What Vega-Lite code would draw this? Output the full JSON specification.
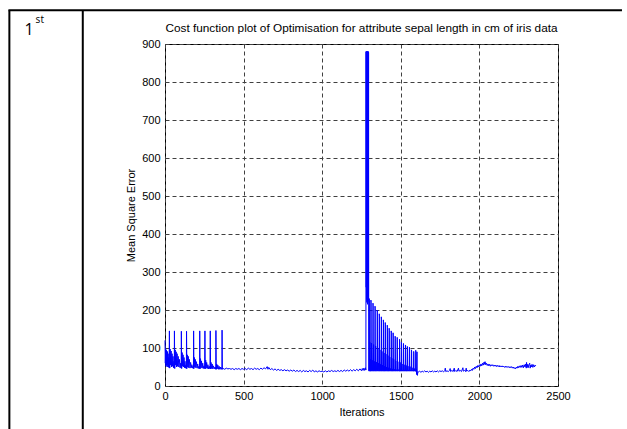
{
  "$schema": "https://vega.github.io/schema/vega-lite/v6.json",
  "width": 393,
  "height": 342,
  "autosize": "none",
  "padding": {"left": 165, "top": 44, "right": 69, "bottom": 43},
  "background": "white",
  "config": {"view": {"stroke": "black", "strokeWidth": 1}, "font": "Liberation Sans"},
  "title": {"text": "Cost function plot of Optimisation for attribute sepal length in cm of iris data", "fontSize": 11.8, "font": "Liberation Sans", "fontWeight": "normal", "color": "black", "offset": -26, "anchor": "middle"},
  "layer": [
    {
      "data": {"values": [
        {"i":0,"mse":120},{"i":2,"mse":60},{"i":4,"mse":98},{"i":6,"mse":52},{"i":8,"mse":95},{"i":10,"mse":55},{"i":12,"mse":92},{"i":14,"mse":50},{"i":16,"mse":90},{"i":18,"mse":55},{"i":20,"mse":85},{"i":22,"mse":50},{"i":24,"mse":75},{"i":26,"mse":48},{"i":28,"mse":145},{"i":30,"mse":47},{"i":33,"mse":97},{"i":36,"mse":55},{"i":39,"mse":92},{"i":42,"mse":50},{"i":45,"mse":85},{"i":48,"mse":52},{"i":51,"mse":78},{"i":54,"mse":48},{"i":57,"mse":65},{"i":59,"mse":47},{"i":60,"mse":145},{"i":62,"mse":46},{"i":65,"mse":95},{"i":68,"mse":55},{"i":71,"mse":90},{"i":74,"mse":50},{"i":77,"mse":85},{"i":80,"mse":52},{"i":84,"mse":78},{"i":88,"mse":50},{"i":92,"mse":70},{"i":96,"mse":48},{"i":100,"mse":60},{"i":103,"mse":47},{"i":104,"mse":144},{"i":106,"mse":46},{"i":109,"mse":88},{"i":112,"mse":52},{"i":115,"mse":82},{"i":118,"mse":50},{"i":121,"mse":75},{"i":124,"mse":48},{"i":127,"mse":65},{"i":131,"mse":47},{"i":134,"mse":55},{"i":136,"mse":46},{"i":137,"mse":144},{"i":139,"mse":46},{"i":142,"mse":82},{"i":145,"mse":50},{"i":148,"mse":78},{"i":151,"mse":48},{"i":155,"mse":70},{"i":159,"mse":47},{"i":163,"mse":62},{"i":167,"mse":48},{"i":171,"mse":56},{"i":175,"mse":47},{"i":179,"mse":52},{"i":181,"mse":46},{"i":182,"mse":145},{"i":184,"mse":46},{"i":187,"mse":75},{"i":190,"mse":50},{"i":193,"mse":70},{"i":196,"mse":48},{"i":200,"mse":64},{"i":204,"mse":47},{"i":208,"mse":58},{"i":212,"mse":46},{"i":216,"mse":52},{"i":220,"mse":46},{"i":221,"mse":145},{"i":223,"mse":45},{"i":226,"mse":72},{"i":229,"mse":48},{"i":232,"mse":66},{"i":236,"mse":47},{"i":240,"mse":60},{"i":244,"mse":46},{"i":248,"mse":53},{"i":252,"mse":46},{"i":254,"mse":145},{"i":256,"mse":45},{"i":259,"mse":68},{"i":262,"mse":47},{"i":265,"mse":62},{"i":269,"mse":46},{"i":273,"mse":56},{"i":277,"mse":45},{"i":281,"mse":52},{"i":286,"mse":45},{"i":288,"mse":145},{"i":290,"mse":45},{"i":293,"mse":62},{"i":296,"mse":46},{"i":300,"mse":58},{"i":304,"mse":45},{"i":308,"mse":53},{"i":313,"mse":45},{"i":318,"mse":50},{"i":323,"mse":44},{"i":324,"mse":146},{"i":326,"mse":44},{"i":329,"mse":58},{"i":332,"mse":45},{"i":336,"mse":55},{"i":340,"mse":44},{"i":344,"mse":52},{"i":348,"mse":44},{"i":352,"mse":50},{"i":356,"mse":44},{"i":360,"mse":48},{"i":362,"mse":44},{"i":363,"mse":147},{"i":365,"mse":44},{"i":368,"mse":46},
        {"i":370,"mse":46},{"i":380,"mse":44},{"i":390,"mse":47},{"i":400,"mse":45},{"i":410,"mse":46},{"i":420,"mse":44},{"i":430,"mse":46},{"i":440,"mse":43},{"i":450,"mse":46},{"i":460,"mse":44},{"i":470,"mse":46},{"i":480,"mse":43},{"i":490,"mse":46},{"i":500,"mse":44},{"i":510,"mse":46},{"i":520,"mse":43},{"i":530,"mse":47},{"i":540,"mse":44},{"i":550,"mse":46},{"i":560,"mse":43},{"i":570,"mse":47},{"i":580,"mse":44},{"i":590,"mse":46},{"i":600,"mse":43},{"i":610,"mse":47},{"i":620,"mse":44},{"i":630,"mse":48},{"i":640,"mse":45},{"i":650,"mse":51},{"i":655,"mse":44},{"i":660,"mse":49},{"i":670,"mse":43},{"i":680,"mse":46},{"i":690,"mse":42},{"i":700,"mse":45},{"i":710,"mse":41},{"i":720,"mse":44},{"i":730,"mse":41},{"i":740,"mse":43},{"i":750,"mse":40},{"i":760,"mse":43},{"i":770,"mse":40},{"i":780,"mse":42},{"i":790,"mse":39},{"i":800,"mse":42},{"i":810,"mse":39},{"i":820,"mse":42},{"i":830,"mse":38},{"i":840,"mse":41},{"i":850,"mse":38},{"i":860,"mse":41},{"i":870,"mse":37},{"i":880,"mse":41},{"i":890,"mse":38},{"i":900,"mse":40},{"i":910,"mse":37},{"i":920,"mse":41},{"i":930,"mse":38},{"i":940,"mse":42},{"i":950,"mse":37},{"i":960,"mse":40},{"i":970,"mse":37},{"i":980,"mse":40},{"i":990,"mse":38},{"i":1000,"mse":39},{"i":1010,"mse":37},{"i":1020,"mse":40},{"i":1030,"mse":37},{"i":1040,"mse":40},{"i":1050,"mse":38},{"i":1060,"mse":41},{"i":1070,"mse":38},{"i":1080,"mse":40},{"i":1090,"mse":38},{"i":1100,"mse":41},{"i":1110,"mse":38},{"i":1120,"mse":41},{"i":1130,"mse":38},{"i":1140,"mse":42},{"i":1150,"mse":39},{"i":1160,"mse":42},{"i":1170,"mse":39},{"i":1180,"mse":43},{"i":1190,"mse":39},{"i":1200,"mse":43},{"i":1210,"mse":40},{"i":1220,"mse":44},{"i":1230,"mse":40},{"i":1240,"mse":45},{"i":1250,"mse":40},{"i":1255,"mse":46},{"i":1260,"mse":41},{"i":1265,"mse":47},{"i":1270,"mse":41},{"i":1275,"mse":48},{"i":1278,"mse":42},
        {"i":1279,"mse":880},{"i":1280,"mse":260},{"i":1281,"mse":880},{"i":1282,"mse":230},{"i":1283,"mse":880},{"i":1284,"mse":220},{"i":1285,"mse":880},{"i":1286,"mse":225},{"i":1287,"mse":880},{"i":1288,"mse":215},{"i":1289,"mse":880},{"i":1290,"mse":220},{"i":1291,"mse":880},{"i":1292,"mse":225},{"i":1293,"mse":880},{"i":1294,"mse":230},{"i":1295,"mse":878},{"i":1296,"mse":40},
        {"i":1298,"mse":39},{"i":1299,"mse":230},{"i":1300,"mse":224},{"i":1301,"mse":40},{"i":1303,"mse":115},{"i":1305,"mse":39},{"i":1307,"mse":70},{"i":1309,"mse":39},
        {"i":1310,"mse":226},{"i":1311,"mse":220},{"i":1312,"mse":40},{"i":1314,"mse":113},{"i":1316,"mse":39},{"i":1318,"mse":68},{"i":1320,"mse":40},{"i":1322,"mse":39},
        {"i":1323,"mse":218},{"i":1324,"mse":212},{"i":1325,"mse":40},{"i":1327,"mse":109},{"i":1329,"mse":39},{"i":1331,"mse":65},{"i":1333,"mse":40},{"i":1335,"mse":39},
        {"i":1336,"mse":210},{"i":1337,"mse":204},{"i":1338,"mse":40},{"i":1340,"mse":105},{"i":1342,"mse":39},{"i":1344,"mse":63},{"i":1346,"mse":40},{"i":1349,"mse":39},
        {"i":1350,"mse":200},{"i":1351,"mse":194},{"i":1352,"mse":40},{"i":1354,"mse":100},{"i":1356,"mse":39},{"i":1358,"mse":60},{"i":1360,"mse":40},{"i":1362,"mse":39},
        {"i":1363,"mse":190},{"i":1364,"mse":184},{"i":1365,"mse":40},{"i":1367,"mse":95},{"i":1369,"mse":39},{"i":1371,"mse":57},{"i":1373,"mse":40},{"i":1375,"mse":39},
        {"i":1376,"mse":182},{"i":1377,"mse":176},{"i":1378,"mse":40},{"i":1380,"mse":91},{"i":1382,"mse":39},{"i":1384,"mse":55},{"i":1386,"mse":40},{"i":1388,"mse":39},
        {"i":1389,"mse":174},{"i":1390,"mse":168},{"i":1391,"mse":40},{"i":1393,"mse":87},{"i":1395,"mse":39},{"i":1397,"mse":52},{"i":1399,"mse":40},{"i":1400,"mse":39},
        {"i":1401,"mse":167},{"i":1402,"mse":161},{"i":1403,"mse":40},{"i":1405,"mse":84},{"i":1407,"mse":39},{"i":1409,"mse":50},{"i":1411,"mse":40},{"i":1413,"mse":39},
        {"i":1414,"mse":160},{"i":1415,"mse":154},{"i":1416,"mse":40},{"i":1418,"mse":80},{"i":1420,"mse":39},{"i":1422,"mse":48},{"i":1424,"mse":40},{"i":1425,"mse":39},
        {"i":1426,"mse":152},{"i":1427,"mse":146},{"i":1428,"mse":40},{"i":1430,"mse":76},{"i":1432,"mse":39},{"i":1434,"mse":46},{"i":1436,"mse":40},{"i":1438,"mse":39},
        {"i":1439,"mse":145},{"i":1440,"mse":139},{"i":1441,"mse":40},{"i":1443,"mse":73},{"i":1445,"mse":39},{"i":1447,"mse":45},{"i":1449,"mse":40},{"i":1450,"mse":39},
        {"i":1451,"mse":140},{"i":1452,"mse":134},{"i":1453,"mse":40},{"i":1455,"mse":70},{"i":1457,"mse":39},{"i":1459,"mse":44},{"i":1461,"mse":40},{"i":1463,"mse":39},
        {"i":1464,"mse":131},{"i":1465,"mse":125},{"i":1466,"mse":40},{"i":1468,"mse":66},{"i":1470,"mse":39},{"i":1472,"mse":43},{"i":1474,"mse":40},{"i":1476,"mse":39},
        {"i":1477,"mse":128},{"i":1478,"mse":122},{"i":1479,"mse":40},{"i":1481,"mse":64},{"i":1483,"mse":39},{"i":1485,"mse":43},{"i":1487,"mse":40},{"i":1491,"mse":39},
        {"i":1492,"mse":123},{"i":1493,"mse":117},{"i":1494,"mse":40},{"i":1496,"mse":62},{"i":1498,"mse":39},{"i":1500,"mse":42},{"i":1502,"mse":40},{"i":1503,"mse":39},
        {"i":1504,"mse":115},{"i":1505,"mse":109},{"i":1506,"mse":40},{"i":1508,"mse":58},{"i":1510,"mse":39},{"i":1512,"mse":42},{"i":1514,"mse":40},{"i":1516,"mse":39},
        {"i":1517,"mse":112},{"i":1518,"mse":106},{"i":1519,"mse":40},{"i":1521,"mse":56},{"i":1523,"mse":39},{"i":1525,"mse":42},{"i":1527,"mse":40},{"i":1529,"mse":39},
        {"i":1530,"mse":108},{"i":1531,"mse":102},{"i":1532,"mse":40},{"i":1534,"mse":54},{"i":1536,"mse":39},{"i":1538,"mse":42},{"i":1540,"mse":40},{"i":1541,"mse":39},
        {"i":1542,"mse":104},{"i":1543,"mse":98},{"i":1544,"mse":40},{"i":1546,"mse":52},{"i":1548,"mse":39},{"i":1550,"mse":42},{"i":1552,"mse":40},{"i":1554,"mse":39},
        {"i":1555,"mse":102},{"i":1556,"mse":96},{"i":1557,"mse":40},{"i":1559,"mse":51},{"i":1561,"mse":39},{"i":1563,"mse":42},{"i":1565,"mse":40},{"i":1567,"mse":39},
        {"i":1568,"mse":95},{"i":1569,"mse":89},{"i":1570,"mse":40},{"i":1572,"mse":48},{"i":1574,"mse":39},{"i":1576,"mse":42},{"i":1578,"mse":40},{"i":1581,"mse":39},
        {"i":1582,"mse":91},{"i":1583,"mse":85},{"i":1584,"mse":40},{"i":1586,"mse":46},{"i":1588,"mse":39},{"i":1590,"mse":42},{"i":1592,"mse":40},{"i":1594,"mse":39},
        {"i":1595,"mse":94},{"i":1596,"mse":88},{"i":1597,"mse":38},{"i":1599,"mse":45},{"i":1601,"mse":30},{"i":1603,"mse":90},{"i":1604,"mse":36},{"i":1606,"mse":28},{"i":1608,"mse":38},
        {"i":1612,"mse":37},{"i":1620,"mse":39},{"i":1628,"mse":36},{"i":1636,"mse":39},{"i":1644,"mse":37},{"i":1652,"mse":40},{"i":1660,"mse":37},{"i":1668,"mse":39},{"i":1676,"mse":36},{"i":1684,"mse":39},{"i":1692,"mse":37},{"i":1700,"mse":40},{"i":1708,"mse":37},{"i":1716,"mse":39},{"i":1724,"mse":37},{"i":1732,"mse":40},{"i":1740,"mse":37},{"i":1748,"mse":40},{"i":1756,"mse":38},{"i":1764,"mse":40},{"i":1772,"mse":37},{"i":1780,"mse":41},{"i":1783,"mse":47},{"i":1786,"mse":38},{"i":1794,"mse":40},{"i":1802,"mse":38},{"i":1810,"mse":41},{"i":1814,"mse":46},{"i":1817,"mse":38},{"i":1825,"mse":41},{"i":1833,"mse":38},{"i":1840,"mse":47},{"i":1843,"mse":38},{"i":1850,"mse":41},{"i":1858,"mse":38},{"i":1867,"mse":47},{"i":1870,"mse":39},{"i":1878,"mse":41},{"i":1886,"mse":38},{"i":1895,"mse":48},{"i":1898,"mse":39},{"i":1905,"mse":41},{"i":1912,"mse":38},{"i":1916,"mse":47},{"i":1919,"mse":39},{"i":1926,"mse":41},{"i":1933,"mse":38},{"i":1940,"mse":42},{"i":1945,"mse":40},{"i":1950,"mse":44},{"i":1955,"mse":41},{"i":1960,"mse":47},{"i":1965,"mse":44},{"i":1970,"mse":50},{"i":1975,"mse":46},{"i":1980,"mse":52},{"i":1985,"mse":48},{"i":1990,"mse":54},{"i":1995,"mse":50},{"i":2000,"mse":56},{"i":2005,"mse":52},{"i":2010,"mse":58},{"i":2015,"mse":53},{"i":2020,"mse":60},{"i":2025,"mse":55},{"i":2030,"mse":63},{"i":2033,"mse":57},{"i":2036,"mse":64},{"i":2040,"mse":56},{"i":2045,"mse":60},{"i":2050,"mse":54},{"i":2055,"mse":58},{"i":2060,"mse":53},{"i":2065,"mse":57},{"i":2070,"mse":52},{"i":2075,"mse":56},{"i":2080,"mse":53},{"i":2085,"mse":56},{"i":2090,"mse":52},{"i":2095,"mse":55},{"i":2100,"mse":52},{"i":2105,"mse":55},{"i":2110,"mse":51},{"i":2115,"mse":54},{"i":2120,"mse":51},{"i":2125,"mse":54},{"i":2130,"mse":50},{"i":2135,"mse":53},{"i":2140,"mse":50},{"i":2145,"mse":53},{"i":2150,"mse":50},{"i":2155,"mse":52},{"i":2160,"mse":49},{"i":2165,"mse":52},{"i":2170,"mse":49},{"i":2175,"mse":52},{"i":2180,"mse":49},{"i":2185,"mse":51},{"i":2190,"mse":48},{"i":2195,"mse":51},{"i":2200,"mse":48},{"i":2205,"mse":51},{"i":2210,"mse":47},{"i":2215,"mse":50},{"i":2220,"mse":46},{"i":2225,"mse":48},{"i":2230,"mse":45},{"i":2235,"mse":50},{"i":2240,"mse":47},{"i":2245,"mse":52},{"i":2250,"mse":48},{"i":2255,"mse":53},{"i":2260,"mse":49},{"i":2265,"mse":54},{"i":2270,"mse":49},{"i":2275,"mse":55},{"i":2280,"mse":48},{"i":2285,"mse":56},{"i":2290,"mse":50},{"i":2295,"mse":58},{"i":2298,"mse":47},{"i":2300,"mse":62},{"i":2303,"mse":49},{"i":2307,"mse":57},{"i":2310,"mse":48},{"i":2315,"mse":56},{"i":2320,"mse":60},{"i":2323,"mse":47},{"i":2327,"mse":55},{"i":2330,"mse":50},{"i":2335,"mse":57},{"i":2340,"mse":49},{"i":2345,"mse":56},{"i":2350,"mse":50},{"i":2355,"mse":55},{"i":2359,"mse":53}
      ]},
      "mark": {"type": "line", "color": "#0000ff", "strokeWidth": 1},
      "encoding": {
        "x": {"field": "i", "type": "quantitative", "scale": {"domain": [0, 2500], "nice": false, "zero": false},
              "axis": {"values": [0, 500, 1000, 1500, 2000, 2500], "format": "d", "grid": true, "gridDash": [4, 3], "gridColor": "#404040", "ticks": false, "domain": false, "labelFlush": false, "labelOverlap": false, "labelFontSize": 11, "labelColor": "black", "labelPadding": 4, "labelFont": "Liberation Sans", "title": "Iterations", "titleFontSize": 11, "titleFontWeight": "normal", "titleColor": "black", "titleFont": "Liberation Sans", "titlePadding": 5}},
        "y": {"field": "mse", "type": "quantitative", "scale": {"domain": [0, 900], "nice": false},
              "axis": {"values": [0, 100, 200, 300, 400, 500, 600, 700, 800, 900], "format": "d", "grid": true, "gridDash": [4, 3], "gridColor": "#404040", "ticks": false, "domain": false, "labelFlush": false, "labelOverlap": false, "labelFontSize": 11, "labelColor": "black", "labelPadding": 5, "labelFont": "Liberation Sans", "title": "Mean Square Error", "titleFontSize": 11, "titleFontWeight": "normal", "titleColor": "black", "titleFont": "Liberation Sans", "titlePadding": 5}}
      }
    },
    {
      "data": {"values": [{}]},
      "mark": {"type": "rule", "color": "black", "strokeWidth": 2},
      "encoding": {
        "x": {"datum": -990, "axis": {"values": [0, 500, 1000, 1500, 2000, 2500], "format": "d", "grid": true, "gridDash": [4, 3], "gridColor": "#404040", "ticks": false, "domain": false, "labelFlush": false, "labelOverlap": false, "labelFontSize": 11, "labelColor": "black", "labelPadding": 4, "labelFont": "Liberation Sans", "title": "Iterations", "titleFontSize": 11, "titleFontWeight": "normal", "titleColor": "black", "titleFont": "Liberation Sans", "titlePadding": 5}},
        "y": {"datum": 989, "axis": {"values": [0, 100, 200, 300, 400, 500, 600, 700, 800, 900], "format": "d", "grid": true, "gridDash": [4, 3], "gridColor": "#404040", "ticks": false, "domain": false, "labelFlush": false, "labelOverlap": false, "labelFontSize": 11, "labelColor": "black", "labelPadding": 5, "labelFont": "Liberation Sans", "title": "Mean Square Error", "titleFontSize": 11, "titleFontWeight": "normal", "titleColor": "black", "titleFont": "Liberation Sans", "titlePadding": 5}},
        "y2": {"datum": -200}
      }
    },
    {
      "data": {"values": [{}]},
      "mark": {"type": "rule", "color": "black", "strokeWidth": 2},
      "encoding": {
        "x": {"datum": -523, "axis": {"values": [0, 500, 1000, 1500, 2000, 2500], "format": "d", "grid": true, "gridDash": [4, 3], "gridColor": "#404040", "ticks": false, "domain": false, "labelFlush": false, "labelOverlap": false, "labelFontSize": 11, "labelColor": "black", "labelPadding": 4, "labelFont": "Liberation Sans", "title": "Iterations", "titleFontSize": 11, "titleFontWeight": "normal", "titleColor": "black", "titleFont": "Liberation Sans", "titlePadding": 5}},
        "y": {"datum": 989, "axis": {"values": [0, 100, 200, 300, 400, 500, 600, 700, 800, 900], "format": "d", "grid": true, "gridDash": [4, 3], "gridColor": "#404040", "ticks": false, "domain": false, "labelFlush": false, "labelOverlap": false, "labelFontSize": 11, "labelColor": "black", "labelPadding": 5, "labelFont": "Liberation Sans", "title": "Mean Square Error", "titleFontSize": 11, "titleFontWeight": "normal", "titleColor": "black", "titleFont": "Liberation Sans", "titlePadding": 5}},
        "y2": {"datum": -200}
      }
    },
    {
      "data": {"values": [{}]},
      "mark": {"type": "rule", "color": "black", "strokeWidth": 2},
      "encoding": {
        "x": {"datum": -996, "axis": {"values": [0, 500, 1000, 1500, 2000, 2500], "format": "d", "grid": true, "gridDash": [4, 3], "gridColor": "#404040", "ticks": false, "domain": false, "labelFlush": false, "labelOverlap": false, "labelFontSize": 11, "labelColor": "black", "labelPadding": 4, "labelFont": "Liberation Sans", "title": "Iterations", "titleFontSize": 11, "titleFontWeight": "normal", "titleColor": "black", "titleFont": "Liberation Sans", "titlePadding": 5}},
        "x2": {"datum": 2907},
        "y": {"datum": 989, "axis": {"values": [0, 100, 200, 300, 400, 500, 600, 700, 800, 900], "format": "d", "grid": true, "gridDash": [4, 3], "gridColor": "#404040", "ticks": false, "domain": false, "labelFlush": false, "labelOverlap": false, "labelFontSize": 11, "labelColor": "black", "labelPadding": 5, "labelFont": "Liberation Sans", "title": "Mean Square Error", "titleFontSize": 11, "titleFontWeight": "normal", "titleColor": "black", "titleFont": "Liberation Sans", "titlePadding": 5}}
      }
    },
    {
      "data": {"values": [{"label": "1"}]},
      "mark": {"type": "text", "font": "Open Sans", "fontSize": 16, "align": "left", "baseline": "alphabetic", "color": "black"},
      "encoding": {
        "x": {"datum": -893, "axis": {"values": [0, 500, 1000, 1500, 2000, 2500], "format": "d", "grid": true, "gridDash": [4, 3], "gridColor": "#404040", "ticks": false, "domain": false, "labelFlush": false, "labelOverlap": false, "labelFontSize": 11, "labelColor": "black", "labelPadding": 4, "labelFont": "Liberation Sans", "title": "Iterations", "titleFontSize": 11, "titleFontWeight": "normal", "titleColor": "black", "titleFont": "Liberation Sans", "titlePadding": 5}},
        "y": {"datum": 924, "axis": {"values": [0, 100, 200, 300, 400, 500, 600, 700, 800, 900], "format": "d", "grid": true, "gridDash": [4, 3], "gridColor": "#404040", "ticks": false, "domain": false, "labelFlush": false, "labelOverlap": false, "labelFontSize": 11, "labelColor": "black", "labelPadding": 5, "labelFont": "Liberation Sans", "title": "Mean Square Error", "titleFontSize": 11, "titleFontWeight": "normal", "titleColor": "black", "titleFont": "Liberation Sans", "titlePadding": 5}},
        "text": {"field": "label"}
      }
    },
    {
      "data": {"values": [{"label": "st"}]},
      "mark": {"type": "text", "font": "Open Sans", "fontSize": 10, "align": "left", "baseline": "alphabetic", "color": "black"},
      "encoding": {
        "x": {"datum": -823, "axis": {"values": [0, 500, 1000, 1500, 2000, 2500], "format": "d", "grid": true, "gridDash": [4, 3], "gridColor": "#404040", "ticks": false, "domain": false, "labelFlush": false, "labelOverlap": false, "labelFontSize": 11, "labelColor": "black", "labelPadding": 4, "labelFont": "Liberation Sans", "title": "Iterations", "titleFontSize": 11, "titleFontWeight": "normal", "titleColor": "black", "titleFont": "Liberation Sans", "titlePadding": 5}},
        "y": {"datum": 954, "axis": {"values": [0, 100, 200, 300, 400, 500, 600, 700, 800, 900], "format": "d", "grid": true, "gridDash": [4, 3], "gridColor": "#404040", "ticks": false, "domain": false, "labelFlush": false, "labelOverlap": false, "labelFontSize": 11, "labelColor": "black", "labelPadding": 5, "labelFont": "Liberation Sans", "title": "Mean Square Error", "titleFontSize": 11, "titleFontWeight": "normal", "titleColor": "black", "titleFont": "Liberation Sans", "titlePadding": 5}},
        "text": {"field": "label"}
      }
    }
  ]
}
